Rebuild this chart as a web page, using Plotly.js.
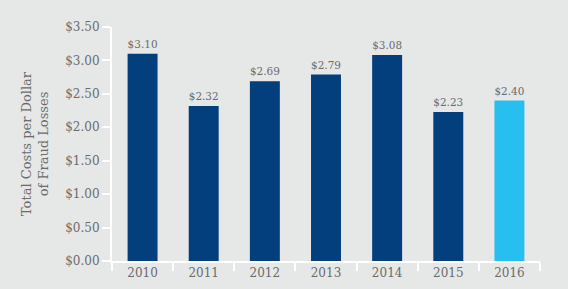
<!DOCTYPE html>
<html><head><meta charset="utf-8">
<script src="https://cdn.plot.ly/plotly-3.0.1.min.js"></script>
<style>html,body{margin:0;padding:0;background:#e6e7e7;}</style>
</head><body>
<div id="chart" style="width:568px;height:289px;"></div>
<script>
const years = ['2010','2011','2012','2013','2014','2015','2016'];
const costs = [3.10, 2.32, 2.69, 2.79, 3.08, 2.23, 2.40];
const labels = ['$3.10','$2.32','$2.69','$2.79','$3.08','$2.23','$2.40'];
const tickVals = [0,0.5,1,1.5,2,2.5,3,3.5];
const tickText = ['$0.00','$0.50','$1.00','$1.50','$2.00','$2.50','$3.00','$3.50'];
const barColors = years.map((y,i)=> i===years.length-1 ? '#27bfef' : '#023f7c');
const fontFam = '"DejaVu Serif", serif';
const trace = {
  type:'bar', x: years, y: costs, text: labels,
  textposition:'outside', cliponaxis:false,
  textfont:{family:fontFam, size:11, color:'#6b6b6b'},
  marker:{color: barColors}, hoverinfo:'none'
};
const layout = {
  width:568, height:289,
  paper_bgcolor:'#e6e7e7', plot_bgcolor:'#e6e7e7',
  margin:{l:112, r:28, t:27, b:28},
  bargap:0.51,
  showlegend:false,
  font:{family:fontFam, color:'#6b6b6b', size:12},
  xaxis:{type:'category', tickson:'boundaries', ticks:'outside', ticklen:8, tickwidth:2, tickcolor:'#ffffff',
    showline:true, linecolor:'#ffffff', linewidth:2, showgrid:false, zeroline:false,
    tickfont:{family:fontFam, size:12, color:'#6b6b6b'}},
  yaxis:{range:[0,3.5], tickvals:tickVals, ticktext:tickText, ticks:'outside', ticklen:8, tickwidth:2, tickcolor:'#ffffff',
    showline:true, linecolor:'#ffffff', linewidth:2, showgrid:false, zeroline:false,
    tickfont:{family:fontFam, size:12, color:'#6b6b6b'},
    title:{text:'Total Costs per Dollar<br>of Fraud Losses', font:{family:fontFam, size:13, color:'#6b6b6b'}, standoff:14}}
};
Plotly.newPlot('chart',[trace],layout,{displayModeBar:false, staticPlot:true});
</script>
</body></html>
